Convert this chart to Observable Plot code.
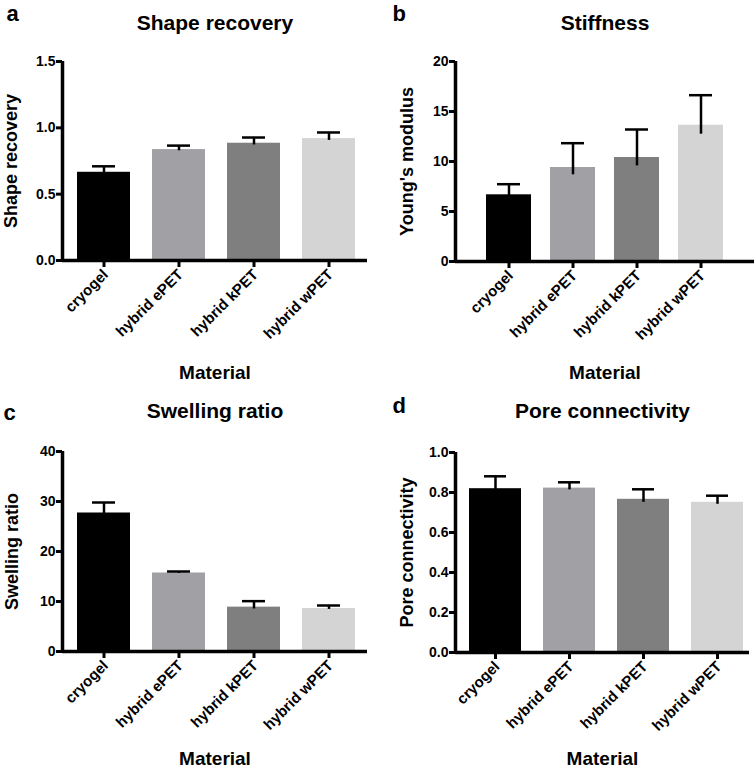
<!DOCTYPE html>
<html>
<head>
<meta charset="utf-8">
<script src="https://cdn.jsdelivr.net/npm/d3@7"></script>
<script src="https://cdn.jsdelivr.net/npm/@observablehq/plot@0.6"></script>
<style>
  html, body { margin: 0; padding: 0; background: #fff; }
  #wrap { position: relative; width: 755px; height: 769px; overflow: hidden; }
  .panel { position: absolute; }
  .panel svg { overflow: visible; }
</style>
</head>
<body>
<div id="wrap"></div>
<script>
// ---- data ----
const materials = ["cryogel", "hybrid ePET", "hybrid kPET", "hybrid wPET"];
const barColors = ["#000000", "#a1a1a5", "#7f7f7f", "#d4d4d4"];

const shapeRecovery = [0.665, 0.836, 0.884, 0.919];
const shapeRecoveryErr = [0.045, 0.030, 0.043, 0.046];
const shapeTicks = [0, 0.5, 1.0, 1.5];

const youngsModulus = [6.67, 9.4, 10.4, 13.63];
const youngsModulusErr = [1.06, 2.43, 2.8, 3.0];
const youngsTicks = [0, 5, 10, 15, 20];

const swellingRatio = [27.7, 15.7, 8.87, 8.6];
const swellingRatioErr = [2.1, 0.3, 1.2, 0.6];
const swellingTicks = [0, 10, 20, 30, 40];

const poreConnectivity = [0.819, 0.822, 0.766, 0.751];
const poreConnectivityErr = [0.062, 0.029, 0.050, 0.033];
const poreTicks = [0, 0.2, 0.4, 0.6, 0.8, 1.0];

const panelLetters = ["a", "b", "c", "d"];
const panelTitles = ["Shape recovery", "Stiffness", "Swelling ratio", "Pore connectivity"];
const yLabels = ["Shape recovery", "Young's modulus", "Swelling ratio", "Pore connectivity"];
const xLabel = "Material";

// ---- layout per panel ----
const FONT = "'Liberation Sans', Arial, Helvetica, sans-serif";
const panels = [
  {left: 0, top: 0, width: 377, height: 384, mL: 62, mR: 10, mT: 61, mB: 124,
   values: shapeRecovery, errs: shapeRecoveryErr, domain: [0, 1.5], ticks: shapeTicks, fmt: d3.format(".1f"),
   padO: 0.183, align: 0.545, cap: 15,
   letter: {dx: -56, dy: -41}, titleDy: -32, yDx: -45.5, xDy: 118},
  {left: 377, top: 0, width: 378, height: 384, mL: 78, mR: 1, mT: 61, mB: 123,
   values: youngsModulus, errs: youngsModulusErr, domain: [0, 20], ticks: youngsTicks, fmt: d3.format("d"),
   padO: 0.475, align: 0.5, cap: 11,
   letter: {dx: -63, dy: -41}, titleDy: -32, yDx: -42.7, xDy: 117},
  {left: 0, top: 384, width: 377, height: 385, mL: 62, mR: 10, mT: 67, mB: 118,
   values: swellingRatio, errs: swellingRatioErr, domain: [0, 40], ticks: swellingTicks, fmt: d3.format("d"),
   padO: 0.183, align: 0.545, cap: 15,
   letter: {dx: -59, dy: -32}, titleDy: -33.7, yDx: -45, xDy: 113.5},
  {left: 377, top: 384, width: 378, height: 385, mL: 78, mR: 6, mT: 68, mB: 117,
   values: poreConnectivity, errs: poreConnectivityErr, domain: [0, 1.0], ticks: poreTicks, fmt: d3.format(".1f"),
   padO: 0.11, align: 0.68, cap: 15,
   letter: {dx: -63, dy: -40}, titleDy: -34.7, yDx: -42.7, xDy: 112.5}
];

const wrap = document.getElementById("wrap");

panels.forEach((p, i) => {
  const data = materials.map((m, j) => ({material: m, value: p.values[j], hi: p.values[j] + p.errs[j]}));
  const frameW = p.width - p.mL - p.mR;
  const frameH = p.height - p.mT - p.mB;
  const frameCenter = p.mL + frameW / 2;
  const chart = Plot.plot({
    width: p.width,
    height: p.height,
    marginLeft: p.mL,
    marginRight: p.mR,
    marginTop: p.mT,
    marginBottom: p.mB,
    style: {fontFamily: FONT, fontWeight: "bold", fontSize: "15px", color: "#000", background: "transparent", overflow: "visible"},
    x: {domain: materials, paddingInner: 0.3, paddingOuter: p.padO, align: p.align, axis: null},
    y: {domain: p.domain, axis: null},
    color: {domain: materials, range: barColors},
    marks: [
      Plot.barY(data, {x: "material", y: "value", fill: "material"}),
      Plot.ruleX(data, {x: "material", y1: (d) => d.value - (d.hi - d.value) * 0.3, y2: "hi", stroke: "#000", strokeWidth: 2.5}),
      Plot.tickY(data, {x: "material", y: "hi", stroke: "#000", strokeWidth: 2.5, insetLeft: p.cap, insetRight: p.cap}),
      // y axis: ticks and labels
      Plot.ruleY(p.ticks, {y: (d) => d, insetLeft: -6, insetRight: frameW, stroke: "#000", strokeWidth: 3}),
      Plot.text(p.ticks, {y: (d) => d, text: p.fmt, frameAnchor: "left", textAnchor: "end", dx: -7, fontSize: 14, fontWeight: "bold"}),
      // x axis: ticks and rotated labels
      Plot.ruleX(materials, {x: (d) => d, insetTop: frameH, insetBottom: -7, stroke: "#000", strokeWidth: 3}),
      Plot.text(materials, {x: (d) => d, frameAnchor: "bottom", rotate: -45, textAnchor: "end", lineAnchor: "bottom", dx: 5, dy: 15, fontSize: 15, fontWeight: "bold"}),
      // axis lines
      Plot.ruleX([0], {x: null, dx: p.mL - frameCenter, stroke: "#000", strokeWidth: 3.5}),
      Plot.ruleY([0], {stroke: "#000", strokeWidth: 3.5}),
      // annotations
      Plot.text([panelLetters[i]], {frameAnchor: "top-left", textAnchor: "start", lineAnchor: "bottom", dx: p.letter.dx, dy: p.letter.dy, fontSize: 22, fontWeight: "bold"}),
      Plot.text([panelTitles[i]], {frameAnchor: "top", lineAnchor: "bottom", dy: p.titleDy, fontSize: 21, fontWeight: "bold"}),
      Plot.text([yLabels[i]], {frameAnchor: "left", rotate: -90, lineAnchor: "bottom", textAnchor: "middle", dx: p.yDx, fontSize: 18, fontWeight: "bold"}),
      Plot.text([xLabel], {frameAnchor: "bottom", lineAnchor: "bottom", dy: p.xDy, fontSize: 19, fontWeight: "bold"})
    ]
  });
  const div = document.createElement("div");
  div.className = "panel";
  div.style.left = p.left + "px";
  div.style.top = p.top + "px";
  div.appendChild(chart);
  wrap.appendChild(div);
});
</script>
</body>
</html>
